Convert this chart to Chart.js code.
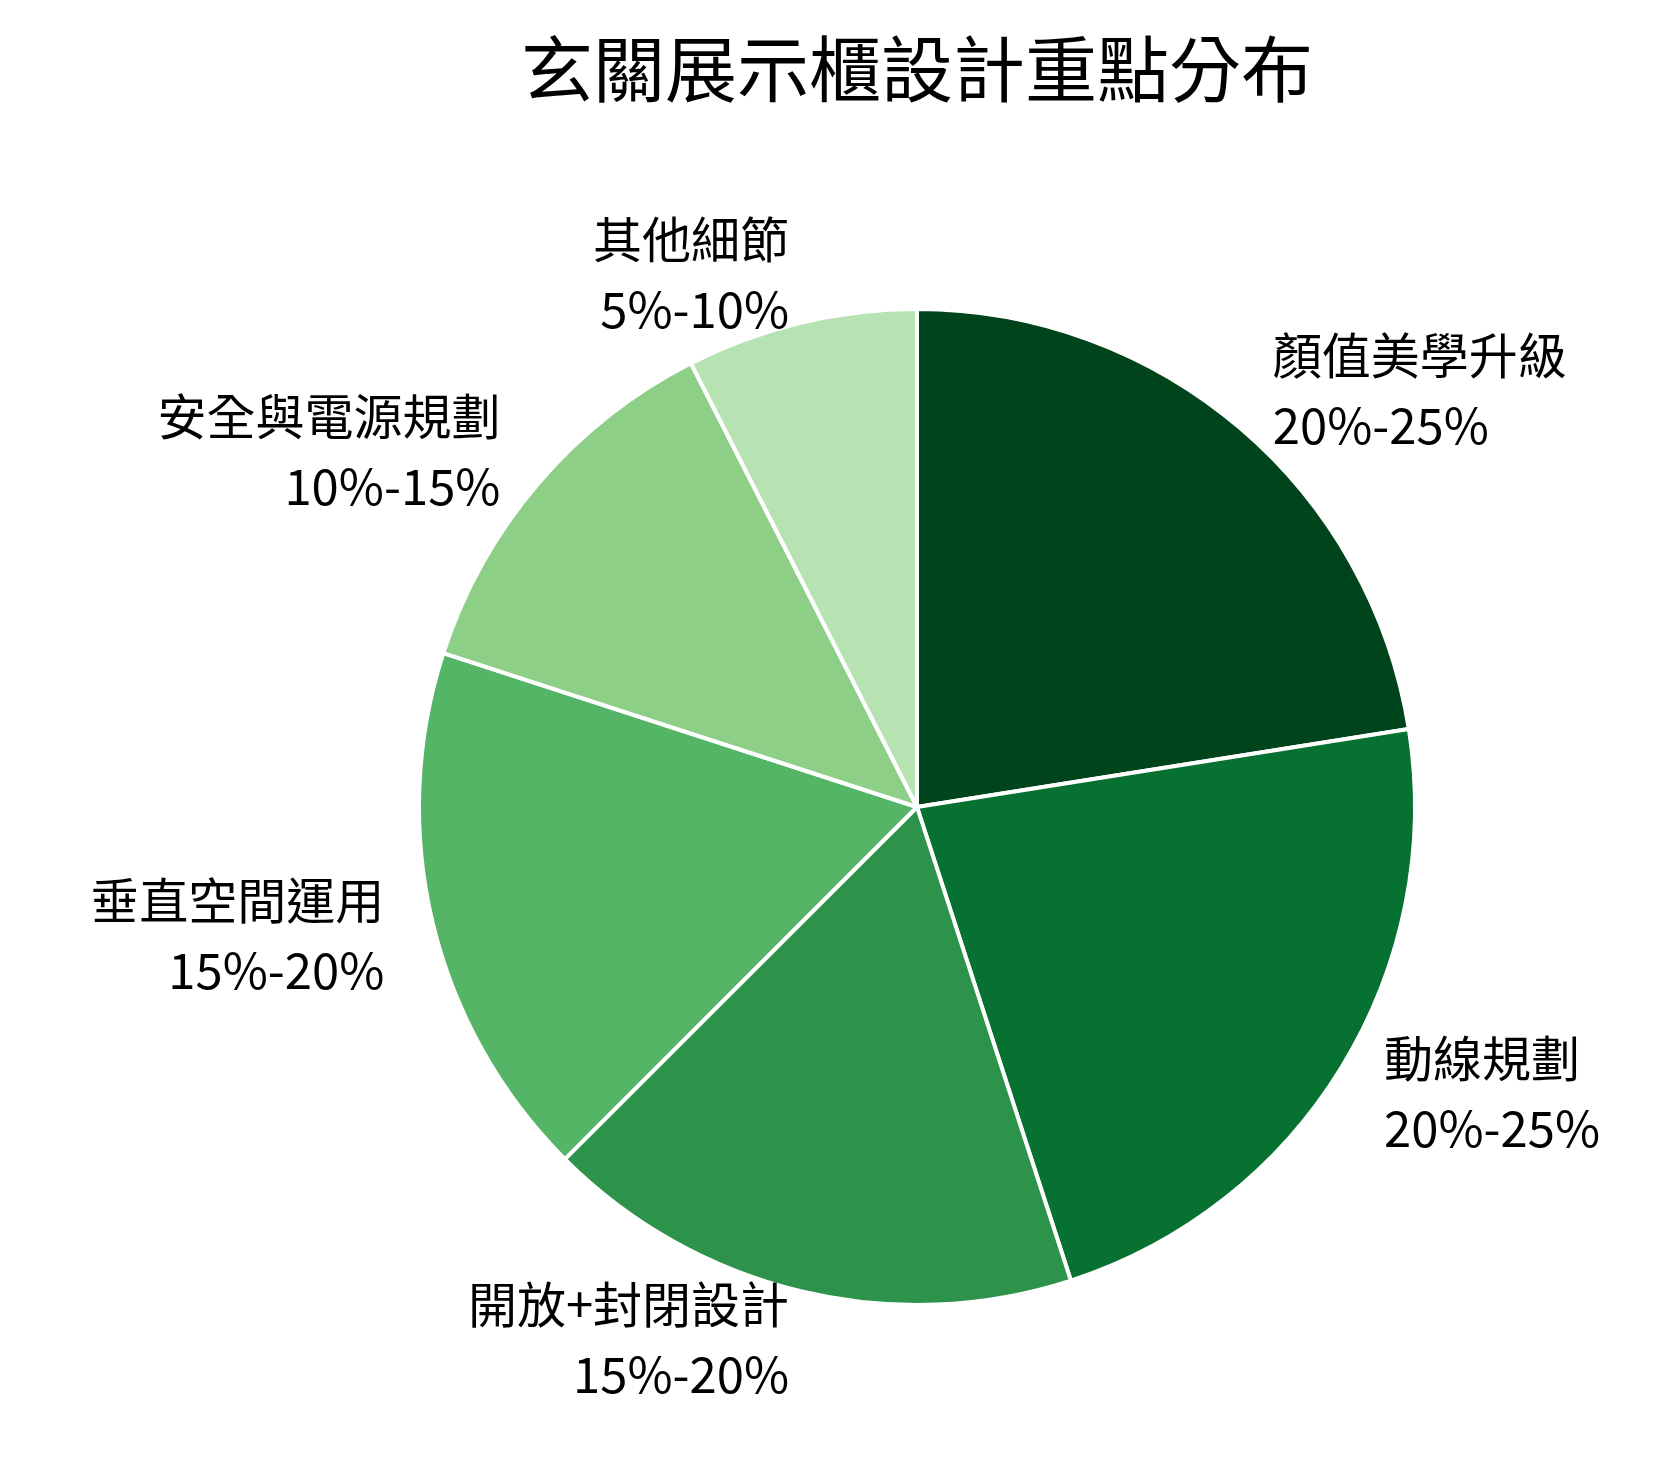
<!DOCTYPE html>
<html>
<head>
<meta charset="utf-8">
<script src="https://cdn.jsdelivr.net/npm/chart.js@4"></script>
<style>
  html, body { margin: 0; padding: 0; background: #fff; }
  #wrap { width: 1677px; height: 1468px; }
</style>
</head>
<body>
<div id="wrap"><canvas id="pieChart"></canvas></div>
<script>
var categories = ['顏值美學升級', '動線規劃', '開放+封閉設計', '垂直空間運用', '安全與電源規劃', '其他細節'];
var rangeLabels = ['20%-25%', '20%-25%', '15%-20%', '15%-20%', '10%-15%', '5%-10%'];
var shares = [22.5, 22.5, 17.5, 17.5, 12.5, 7.5];
var sliceColors = ['#00441b', '#067130', '#2d924a', '#55b567', '#8ecf87', '#b7e2b1'];
var fontFamily = '"Noto Sans CJK TC", "Noto Sans", sans-serif';

var outsideLabels = {
    id: 'outsideLabels',
    afterDraw: function(chart) {
        var ctx = chart.ctx;
        ctx.save();
        ctx.fillStyle = '#000';
        ctx.font = '72px ' + fontFamily;
        ctx.textAlign = 'center';
        ctx.textBaseline = 'middle';
        ctx.fillText('玄關展示櫃設計重點分布', 917, 69);

        ctx.font = '49px ' + fontFamily;
        chart.getDatasetMeta(0).data.forEach(function(arc, i) {
            var mid = (arc.startAngle + arc.endAngle) / 2;
            var r = arc.outerRadius * 1.1;
            var x = arc.x + Math.cos(mid) * r;
            var y = arc.y + Math.sin(mid) * r;
            ctx.textAlign = Math.cos(mid) >= 0 ? 'left' : 'right';
            ctx.fillText(categories[i], x, y - 35);
            ctx.fillText(rangeLabels[i], x, y + 35);
        });
        ctx.restore();
    }
};

new Chart(document.getElementById('pieChart').getContext('2d'), {
    type: 'pie',
    data: {
        labels: categories,
        datasets: [{
            data: shares,
            backgroundColor: sliceColors,
            borderColor: '#ffffff',
            borderWidth: 4
        }]
    },
    options: {
        responsive: true,
        maintainAspectRatio: false,
        animation: false,
        layout: { padding: { left: 417, right: 260, top: 307, bottom: 161 } },
        plugins: {
            legend: { display: false },
            tooltip: { enabled: false }
        }
    },
    plugins: [outsideLabels]
});
</script>
</body>
</html>
